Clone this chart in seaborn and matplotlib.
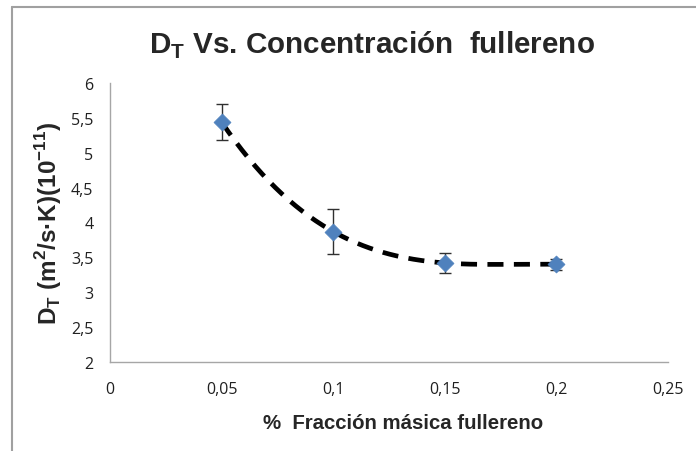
import numpy as np
import pandas as pd
import seaborn as sns
import matplotlib
matplotlib.use("Agg")
import matplotlib.pyplot as plt
from matplotlib.lines import Line2D
from matplotlib.ticker import FuncFormatter, MultipleLocator

# Mass fraction of fullerene and thermodiffusion coefficient
fraccion = [0.05, 0.10, 0.15, 0.20]
dt_valor = [5.44, 3.87, 3.42, 3.40]
dt_error = [0.26, 0.32, 0.14, 0.08]

df = pd.DataFrame({"fraccion": fraccion, "dt": dt_valor, "err": dt_error})

sns.set_theme(style="white")
plt.rcParams["font.family"] = ["Liberation Sans", "DejaVu Sans"]

W, H = 696, 452
fig = plt.figure(figsize=(W / 100, H / 100), dpi=100)
ax = fig.add_axes([110 / W, 1 - 363 / H, (668 - 110) / W, (363 - 84) / H])

# Third-order polynomial trend line
coef = np.polyfit(df["fraccion"], df["dt"], 3)
xs = np.linspace(df["fraccion"].min(), df["fraccion"].max(), 200)
trend = pd.DataFrame({"x": xs, "y": np.polyval(coef, xs)})
sns.lineplot(data=trend, x="x", y="y", ax=ax, color="black", linewidth=3.4,
             zorder=2)
ax.lines[-1].set_dashes((3.4, 2.2))

ax.errorbar(df["fraccion"], df["dt"], yerr=df["err"], fmt="none",
            ecolor="#303030", elinewidth=1.0, capsize=4.5, capthick=1.0, zorder=3)
sns.scatterplot(data=df, x="fraccion", y="dt", ax=ax, marker="D", s=75,
                color="#4F81BD", edgecolor="#4F81BD", linewidth=0.5, zorder=4)

ax.set_xlim(0, 0.25)
ax.set_ylim(2, 6)
ax.xaxis.set_major_locator(MultipleLocator(0.05))
ax.yaxis.set_major_locator(MultipleLocator(0.5))
coma = FuncFormatter(lambda v, p: f"{v:g}".replace(".", ","))
ax.xaxis.set_major_formatter(coma)
ax.yaxis.set_major_formatter(coma)
ax.tick_params(axis="both", length=0, labelsize=11.5, labelcolor="#202020")
ax.tick_params(axis="x", pad=14)
ax.tick_params(axis="y", pad=12)
for lab in ax.get_xticklabels() + ax.get_yticklabels():
    lab.set_fontfamily(["Open Sans", "DejaVu Sans"])

for side in ("top", "right"):
    ax.spines[side].set_visible(False)
for side in ("left", "bottom"):
    ax.spines[side].set_color("#a6a6a6")
    ax.spines[side].set_linewidth(1.0)

ax.set_xlabel("%  Fracción másica fullereno", fontsize=14.7, fontweight="bold",
              labelpad=11)
ax.xaxis.label.set_x(0.525)
ax.set_ylabel(r"D$_\mathregular{T}$ (m$^\mathregular{2}$/s·K)(10$^\mathregular{-11}$)",
              fontsize=17.5, fontweight="bold", labelpad=5)

fig.text(0.535, 1 - 45 / H,
         r"D$_\mathregular{T}$ Vs. Concentración  fullereno",
         ha="center", va="center", fontsize=21.3, fontweight="bold")

# Outer frame lines along the top and left edge
fig.add_artist(Line2D([12 / W, 1], [1 - 8 / H, 1 - 8 / H],
                      transform=fig.transFigure, color="#a0a0a0", linewidth=1.5))
fig.add_artist(Line2D([12 / W, 12 / W], [0, 1 - 8 / H],
                      transform=fig.transFigure, color="#a0a0a0", linewidth=1.5))

fig.savefig("out.png", dpi=100, facecolor="white")
